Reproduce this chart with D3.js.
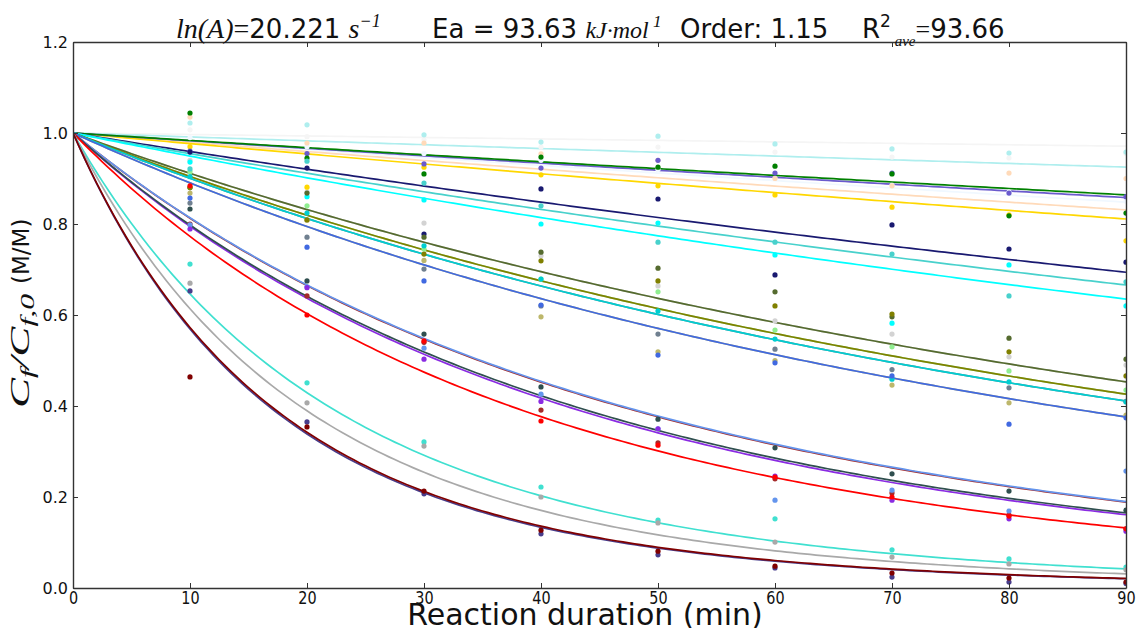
<!DOCTYPE html>
<html>
<head>
<meta charset="utf-8">
<script src="https://cdn.jsdelivr.net/npm/d3@7"></script>
<style>
  body { margin: 0; background: #fff; }
  text { font-family: "DejaVu Sans", sans-serif; fill: #111; }
  .math { font-family: "Liberation Serif", "DejaVu Serif", serif; font-style: italic; }
</style>
</head>
<body>
<div id="chart"></div>
<script>
// sampling times (min) and axis ticks
const times = [10, 20, 30, 40, 50, 60, 70, 80, 90];
const xTicks = [0, 10, 20, 30, 40, 50, 60, 70, 80, 90];
const yTicks = [0, 0.2, 0.4, 0.6, 0.8, 1.0, 1.2];
const reactionOrder = 1.15;

// one entry per run, in drawing order
const seriesColors = [
  "lightgray", "lightgreen", "slategray", "darkkhaki",
  "whitesmoke", "paleturquoise", "aliceblue", "peachpuff", "gold", "slateblue", "green",
  "midnightblue", "mediumturquoise", "cyan",
  "darkolivegreen", "olive", "darkturquoise", "royalblue",
  "brown", "cornflowerblue", "blueviolet", "darkslategray", "red",
  "turquoise", "darkgray", "darkslateblue", "maroon"
];
// fitted rate constants k (per series)
const rateK = [
  0.009342, 0.010116, 0.01057, 0.011707,
  0.000328, 0.000871, 0.001855, 0.002086, 0.002365, 0.001721, 0.001642,
  0.004172, 0.004657, 0.005222,
  0.009342, 0.010116, 0.01057, 0.011707,
  0.02105, 0.020954, 0.023346, 0.022987, 0.026292,
  0.0451, 0.050656, 0.0588, 0.058152
];

// measured Cf/Cf0 at t = 10..90 min
const ptsLightgray      = [0.940, 0.870, 0.802, 0.730, 0.664, 0.587, 0.558, 0.508, 0.490];
const ptsLightgreen     = [0.915, 0.840, 0.745, 0.679, 0.651, 0.567, 0.530, 0.477, 0.435];
const ptsSlategray      = [0.846, 0.771, 0.701, 0.620, 0.558, 0.525, 0.480, 0.440, 0.410];
const ptsDarkkhaki      = [0.868, 0.809, 0.720, 0.596, 0.519, 0.500, 0.446, 0.407, 0.380];
const ptsWhitesmoke     = [1.007, 0.992, 0.985, 0.969, 0.969, 0.958, 0.947, 0.945, 0.955];
const ptsPaleturquoise  = [1.022, 1.018, 0.996, 0.980, 0.993, 0.976, 0.965, 0.956, 0.958];
const ptsAliceblue      = [0.990, 0.970, 0.955, 0.940, 0.920, 0.900, 0.885, 0.870, 0.850];
const ptsPeachpuff      = [1.035, 0.978, 0.978, 0.954, 0.940, 0.900, 0.884, 0.912, 0.900];
const ptsGold           = [0.970, 0.881, 0.925, 0.908, 0.884, 0.864, 0.837, 0.820, 0.763];
const ptsSlateblue      = [0.960, 0.955, 0.932, 0.923, 0.940, 0.912, 0.912, 0.868, 0.860];
const ptsGreen          = [1.044, 0.945, 0.910, 0.947, 0.925, 0.927, 0.910, 0.818, 0.824];
const ptsMidnightblue   = [0.958, 0.923, 0.778, 0.877, 0.855, 0.688, 0.798, 0.745, 0.716];
const ptsMedturquoise   = [0.921, 0.938, 0.890, 0.840, 0.760, 0.760, 0.734, 0.642, 0.673];
const ptsCyan           = [0.936, 0.860, 0.853, 0.800, 0.802, 0.732, 0.582, 0.710, 0.620];
const ptsDarkolivegreen = [0.880, 0.868, 0.771, 0.738, 0.703, 0.651, 0.596, 0.549, 0.503];
const ptsOlive          = [0.880, 0.809, 0.734, 0.719, 0.675, 0.620, 0.602, 0.519, 0.466];
const ptsDarkturquoise  = [0.904, 0.824, 0.752, 0.679, 0.609, 0.547, 0.459, 0.453, 0.409];
const ptsRoyalblue      = [0.857, 0.749, 0.675, 0.622, 0.512, 0.495, 0.466, 0.360, 0.374];
const ptsBrown          = [0.800, 0.642, 0.540, 0.391, 0.319, 0.240, 0.209, 0.160, 0.130];
const ptsCornflower     = [0.798, 0.662, 0.527, 0.426, 0.350, 0.193, 0.215, 0.169, 0.257];
const ptsBlueviolet     = [0.789, 0.660, 0.503, 0.410, 0.350, 0.246, 0.193, 0.152, 0.125];
const ptsDarkslategray  = [0.833, 0.675, 0.558, 0.442, 0.371, 0.308, 0.251, 0.213, 0.171];
const ptsRed            = [0.884, 0.600, 0.543, 0.367, 0.314, 0.244, 0.200, 0.158, 0.130];
const ptsTurquoise      = [0.712, 0.451, 0.321, 0.222, 0.149, 0.152, 0.084, 0.064, 0.046];
const ptsDarkgray       = [0.670, 0.407, 0.312, 0.200, 0.143, 0.101, 0.068, 0.053, 0.040];
const ptsDarkslateblue  = [0.653, 0.365, 0.207, 0.119, 0.073, 0.044, 0.024, 0.013, 0.010];
const ptsMaroon         = [0.464, 0.354, 0.213, 0.127, 0.081, 0.048, 0.033, 0.022, 0.013];

const observed = [
  ptsLightgray, ptsLightgreen, ptsSlategray, ptsDarkkhaki,
  ptsWhitesmoke, ptsPaleturquoise, ptsAliceblue, ptsPeachpuff, ptsGold, ptsSlateblue, ptsGreen,
  ptsMidnightblue, ptsMedturquoise, ptsCyan,
  ptsDarkolivegreen, ptsOlive, ptsDarkturquoise, ptsRoyalblue,
  ptsBrown, ptsCornflower, ptsBlueviolet, ptsDarkslategray, ptsRed,
  ptsTurquoise, ptsDarkgray, ptsDarkslateblue, ptsMaroon
];

const W = 1136, H = 628;
const plot = {left: 73, right: 1126, top: 42, bottom: 588};

const svg = d3.select("#chart").append("svg")
    .attr("width", W)
    .attr("height", H);

const x = d3.scaleLinear().domain([0, 90]).range([plot.left, plot.right]);
const y = d3.scaleLinear().domain([0, 1.2]).range([plot.bottom, plot.top]);

svg.append("clipPath").attr("id", "clip")
  .append("rect")
    .attr("x", plot.left).attr("y", plot.top)
    .attr("width", plot.right - plot.left)
    .attr("height", plot.bottom - plot.top);

// n-th order decay model used for the fitted curves
function model(k, t) {
  const n = reactionOrder;
  return Math.pow(1 + (n - 1) * k * t, -1 / (n - 1));
}
const tGrid = d3.range(0, 90.01, 0.5);

const line = d3.line()
    .x(d => x(d[0]))
    .y(d => y(d[1]));

const g = svg.append("g").attr("clip-path", "url(#clip)");

// fitted curves
g.selectAll(".fit")
  .data(rateK.map((k, i) => ({k, color: seriesColors[i]})))
  .enter().append("path")
    .attr("class", "fit")
    .attr("fill", "none")
    .attr("stroke", d => d.color)
    .attr("stroke-width", 1.7)
    .attr("d", d => line(tGrid.map(t => [t, model(d.k, t)])));

// measured points
const dots = [];
observed.forEach((arr, i) => arr.forEach((v, j) => dots.push({t: times[j], v, color: seriesColors[i]})));

g.selectAll(".dot")
  .data(dots)
  .enter().append("circle")
    .attr("class", "dot")
    .attr("cx", d => x(d.t))
    .attr("cy", d => y(d.v))
    .attr("r", 2.6)
    .attr("fill", d => d.color);

// axes (matplotlib style: ticks inside on all four sides)
const xAxis = svg.append("g")
    .attr("transform", `translate(0,${plot.bottom})`)
    .call(d3.axisBottom(x).tickValues(xTicks).tickSizeInner(-5).tickSizeOuter(0).tickPadding(3));
xAxis.selectAll(".tick text")
    .attr("font-size", 18)
    .attr("fill", "#111")
    .attr("transform", "scale(0.8,1)");

const yAxis = svg.append("g")
    .attr("transform", `translate(${plot.left},0)`)
    .call(d3.axisLeft(y).tickValues(yTicks).tickFormat(d3.format(".1f")).tickSizeInner(-5).tickSizeOuter(0).tickPadding(5));
yAxis.selectAll("text").attr("font-size", 16).attr("fill", "#111");

svg.append("g")
    .attr("transform", `translate(0,${plot.top})`)
    .call(d3.axisTop(x).tickValues(xTicks).tickSizeInner(-5).tickSizeOuter(0).tickFormat(""));
svg.append("g")
    .attr("transform", `translate(${plot.right},0)`)
    .call(d3.axisRight(y).tickValues(yTicks).tickSizeInner(-5).tickSizeOuter(0).tickFormat(""));

svg.selectAll(".domain").attr("stroke", "#333").attr("stroke-width", 1.4);
svg.selectAll(".tick line").attr("stroke", "#333");

// x label
svg.append("text")
    .attr("x", 585).attr("y", 625)
    .attr("text-anchor", "middle")
    .attr("font-size", 30)
    .text("Reaction duration (min)");

// y label: math part then units
const ylMath = svg.append("text")
    .attr("transform", "translate(29,408) rotate(-90)")
    .attr("font-size", 27)
    .attr("textLength", 114)
    .attr("lengthAdjust", "spacingAndGlyphs");
ylMath.append("tspan").attr("class", "math").text("C");
ylMath.append("tspan").attr("class", "math").attr("font-size", 19).attr("dy", 5).text("f");
ylMath.append("tspan").attr("class", "math").attr("dy", -5).text("/");
ylMath.append("tspan").attr("class", "math").text("C");
ylMath.append("tspan").attr("class", "math").attr("font-size", 19).attr("dy", 5).text("f,0");

svg.append("text")
    .attr("transform", "translate(29,284) rotate(-90)")
    .attr("font-size", 23)
    .text("(M/M)");

// title, four segments
const tY = 38;
const t1 = svg.append("text").attr("x", 176).attr("y", tY).attr("font-size", 26).style("white-space", "pre");
t1.append("tspan").attr("class", "math").attr("font-size", 28).text("ln(A)");
t1.append("tspan").attr("font-family", "Liberation Serif").attr("font-size", 28).text("=");
t1.append("tspan").text("20.221 ");
t1.append("tspan").attr("class", "math").attr("font-size", 28).text("s");
t1.append("tspan").attr("class", "math").attr("font-size", 18).attr("dy", -11).text("\u22121");

const t2 = svg.append("text").attr("x", 432).attr("y", tY).attr("font-size", 26).style("white-space", "pre");
t2.append("tspan").text("Ea = 93.63 ");
t2.append("tspan").attr("class", "math").attr("font-size", 24).text("kJ\u00b7mol");
t2.append("tspan").attr("class", "math").attr("font-size", 17).attr("dy", -11).text(" 1");

svg.append("text").attr("x", 680).attr("y", tY).attr("font-size", 26).text("Order: 1.15");

const t4 = svg.append("text").attr("x", 862).attr("y", tY).attr("font-size", 26).style("white-space", "pre");
t4.append("tspan").text("R");
t4.append("tspan").attr("font-size", 17).attr("dy", -11).text("2");
t4.append("tspan").attr("class", "math").attr("font-size", 15).attr("dy", 19).text(" ave");
t4.append("tspan").attr("font-family", "Liberation Serif").attr("dy", -8).text("=");
t4.append("tspan").text("93.66");
</script>
</body>
</html>
